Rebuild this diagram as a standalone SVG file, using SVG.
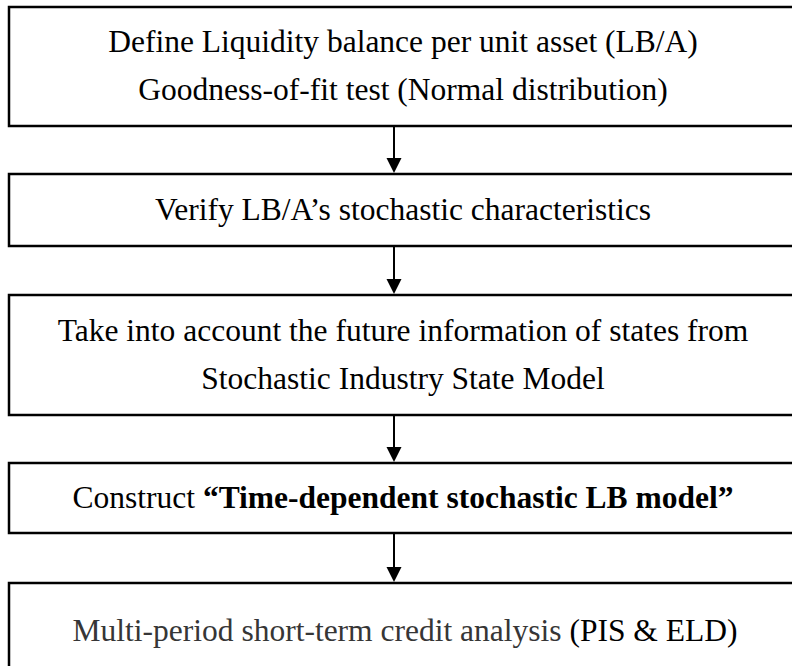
<svg xmlns="http://www.w3.org/2000/svg" width="792" height="666" viewBox="0 0 792 666">
<style>
.box{fill:#fff;stroke:#000;stroke-width:2.5}
.t{font-family:"Liberation Serif","Times New Roman",serif;font-size:31.5px;fill:#000;text-anchor:middle}
.c{stroke:#000;stroke-width:2;fill:none}
.ah{fill:#000}
</style>
<rect width="792" height="666" fill="#fff"/>
<g id="n1"><rect class="box" x="9" y="7" width="800" height="119"/>
<text class="t" x="403" y="52">Define Liquidity balance per unit asset (LB/A)</text>
<text class="t" x="403" y="100">Goodness-of-fit test (Normal distribution)</text></g>
<g id="n2"><rect class="box" x="9" y="174" width="800" height="72"/>
<text class="t" x="403" y="220">Verify LB/A’s stochastic characteristics</text></g>
<g id="n3"><rect class="box" x="9" y="295" width="800" height="120"/>
<text class="t" x="403" y="341">Take into account the future information of states from</text>
<text class="t" x="403" y="389">Stochastic Industry State Model</text></g>
<g id="n4"><rect class="box" x="9" y="463" width="800" height="70"/>
<text class="t" x="403" y="508">Construct <tspan font-weight="bold">“Time-dependent stochastic LB model”</tspan></text></g>
<g id="n5"><rect class="box" x="9" y="583" width="800" height="100"/>
<text class="t" x="405" y="641"><tspan fill="#363636">Multi-period short-term credit analysis</tspan> (PIS &amp; ELD)</text></g>
<g id="connectors">
<line class="c" x1="394" y1="127" x2="394" y2="160"/><path class="ah" d="M386.5,158 L401.5,158 L394,173 Z"/>
<line class="c" x1="394" y1="247" x2="394" y2="281"/><path class="ah" d="M386.5,279 L401.5,279 L394,294 Z"/>
<line class="c" x1="394" y1="416" x2="394" y2="449"/><path class="ah" d="M386.5,447 L401.5,447 L394,462 Z"/>
<line class="c" x1="394" y1="534" x2="394" y2="569"/><path class="ah" d="M386.5,567 L401.5,567 L394,582 Z"/>
</g>
</svg>
